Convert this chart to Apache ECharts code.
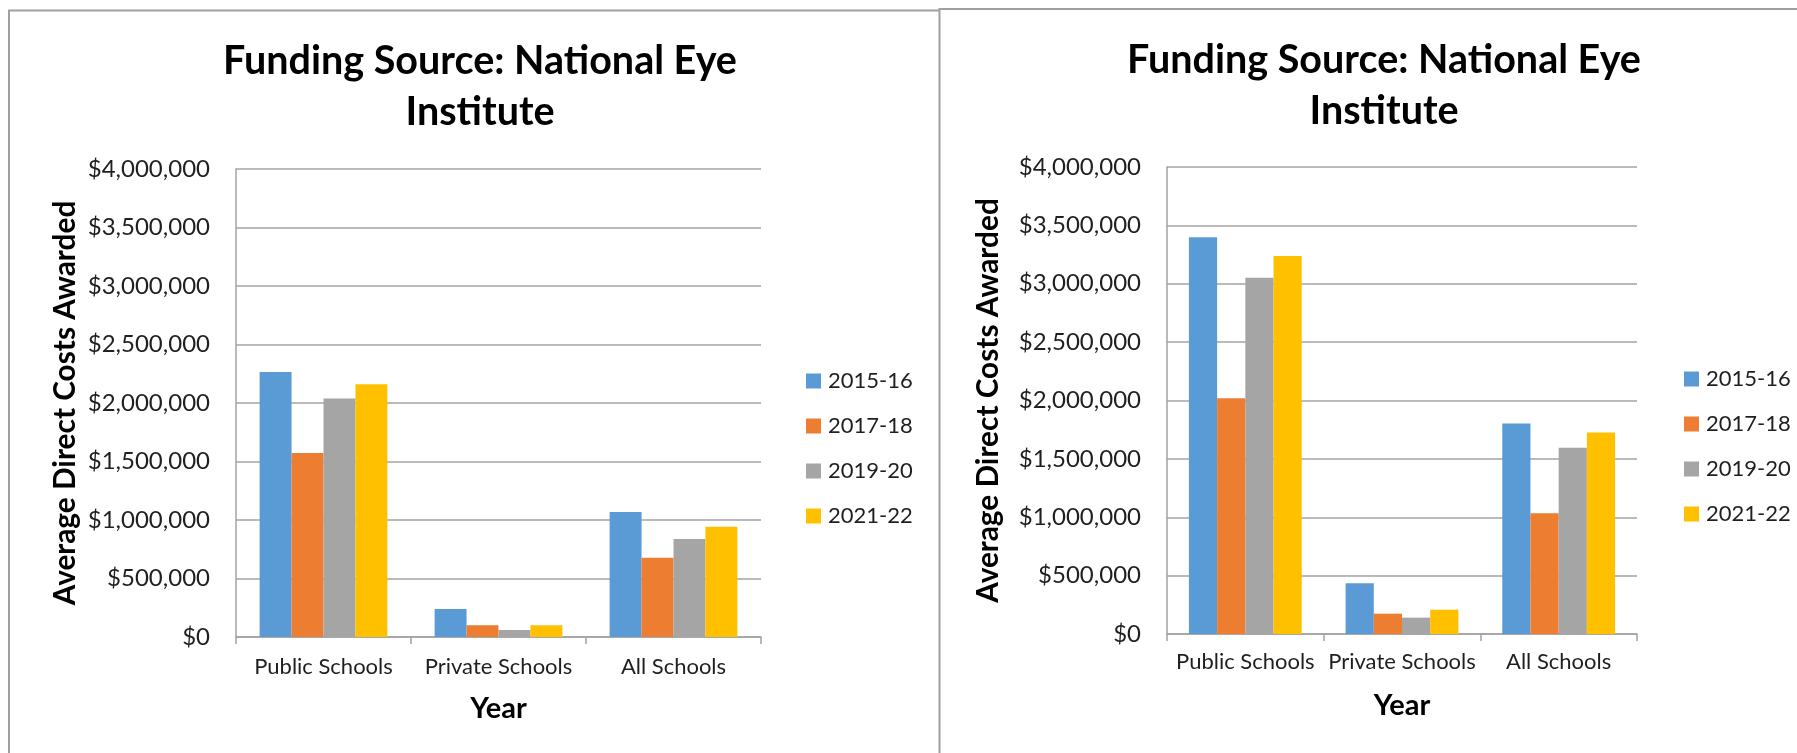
<!DOCTYPE html>
<html>
<head>
<meta charset="utf-8">
<script src="https://cdn.jsdelivr.net/npm/echarts@6/dist/echarts.min.js"></script>
<style>
html,body{margin:0;padding:0;background:#fff;}
#c{width:1797px;height:753px;}
</style>
</head>
<body>
<div id="c"></div>
<script>
const categories = ['Public Schools', 'Private Schools', 'All Schools'];
const periods = ['2015-16', '2017-18', '2019-20', '2021-22'];
const titleText = 'Funding Source: National Eye\nInstitute';
const yAxisTitle = 'Average Direct Costs Awarded';
const xAxisTitle = 'Year';
const yTicks = [0, 500000, 1000000, 1500000, 2000000, 2500000, 3000000, 3500000, 4000000];

// Left chart
const left2015 = [2265000, 239000, 1068000];
const left2017 = [1572000, 100000, 678000];
const left2019 = [2038000, 60000, 837000];
const left2021 = [2161000, 100000, 942000];
// Right chart
const right2015 = [3398000, 434000, 1802000];
const right2017 = [2019000, 174000, 1034000];
const right2019 = [3052000, 140000, 1596000];
const right2021 = [3238000, 208000, 1725000];

const colors = ['#5B9BD5', '#ED7D31', '#A5A5A5', '#FFC000'];
const FONT = 'Lato';
const TXT = '#1f1f1f';
const GRID = '#a3a3a3';

function money(v) {
  return '$' + Math.round(v).toString().replace(/\B(?=(\d{3})+(?!\d))/g, ',');
}

const chart = echarts.init(document.getElementById('c'));

function xAx(gi, margin, gap) {
  return {
    type: 'category', gridIndex: gi, data: categories,
    axisLine: {lineStyle: {color: GRID, width: 1.5}},
    axisTick: {show: true, length: 7, lineStyle: {color: GRID, width: 1.5}},
    axisLabel: {fontFamily: FONT, fontSize: 22, color: TXT, margin: margin, interval: 0},
    name: xAxisTitle, nameLocation: 'middle', nameGap: gap,
    nameTextStyle: {fontFamily: FONT, fontSize: 29, fontWeight: 'bold', color: '#000'}
  };
}
function yAx(gi, gap) {
  return {
    type: 'value', gridIndex: gi, min: yTicks[0], max: yTicks[yTicks.length - 1], interval: yTicks[1] - yTicks[0],
    axisLine: {show: true, lineStyle: {color: GRID, width: 1.5}},
    axisTick: {show: false},
    splitLine: {lineStyle: {color: GRID, width: 1.5}},
    axisLabel: {fontFamily: FONT, fontSize: 24, color: TXT, margin: 26, formatter: money},
    name: yAxisTitle, nameLocation: 'middle', nameGap: gap, nameRotate: 90,
    nameTextStyle: {fontFamily: FONT, fontSize: 29.8, fontWeight: 'bold', color: '#000'}
  };
}

const leftData = [left2015, left2017, left2019, left2021];
const rightData = [right2015, right2017, right2019, right2021];
const series = [];
leftData.forEach((d, i) => series.push({
  name: periods[i], type: 'bar', xAxisIndex: 0, yAxisIndex: 0, data: d,
  barGap: '0%', barCategoryGap: '27%', itemStyle: {color: colors[i]}
}));
rightData.forEach((d, i) => series.push({
  name: periods[i], type: 'bar', xAxisIndex: 1, yAxisIndex: 1, data: d,
  barGap: '0%', barCategoryGap: '28%', itemStyle: {color: colors[i]}
}));

function legend(left, top) {
  return {
    orient: 'vertical', left: left, top: top, data: periods,
    itemWidth: 15, itemHeight: 15, itemGap: 23, icon: 'rect',
    textStyle: {fontFamily: FONT, fontSize: 22, color: TXT, padding: [0, 0, 0, 2]}
  };
}

chart.setOption({
  animation: false,
  color: colors,
  title: [
    {text: titleText, left: 475, top: 31, textAlign: 'center',
     textStyle: {fontFamily: FONT, fontSize: 39.5, fontWeight: 'bold', color: '#000', lineHeight: 51}},
    {text: titleText, left: 1379, top: 30, textAlign: 'center',
     textStyle: {fontFamily: FONT, fontSize: 39.5, fontWeight: 'bold', color: '#000', lineHeight: 51}}
  ],
  legend: [legend(801, 365), legend(1679, 363)],
  grid: [
    {left: 236, top: 169, width: 525, height: 468},
    {left: 1167, top: 167, width: 470, height: 467}
  ],
  xAxis: [xAx(0, 19, 57), xAx(1, 17, 57)],
  yAxis: [yAx(0, 156), yAx(1, 164)],
  series: series,
  graphic: [
    {type: 'polyline', shape: {points: [[9, 800], [9, 10.5], [939, 10.5]]}, style: {stroke: '#a0a0a0', lineWidth: 2, fill: null}},
    {type: 'polyline', shape: {points: [[939.5, 800], [939.5, 9], [1800, 9]]}, style: {stroke: '#a0a0a0', lineWidth: 2, fill: null}}
  ]
});
</script>
</body>
</html>
